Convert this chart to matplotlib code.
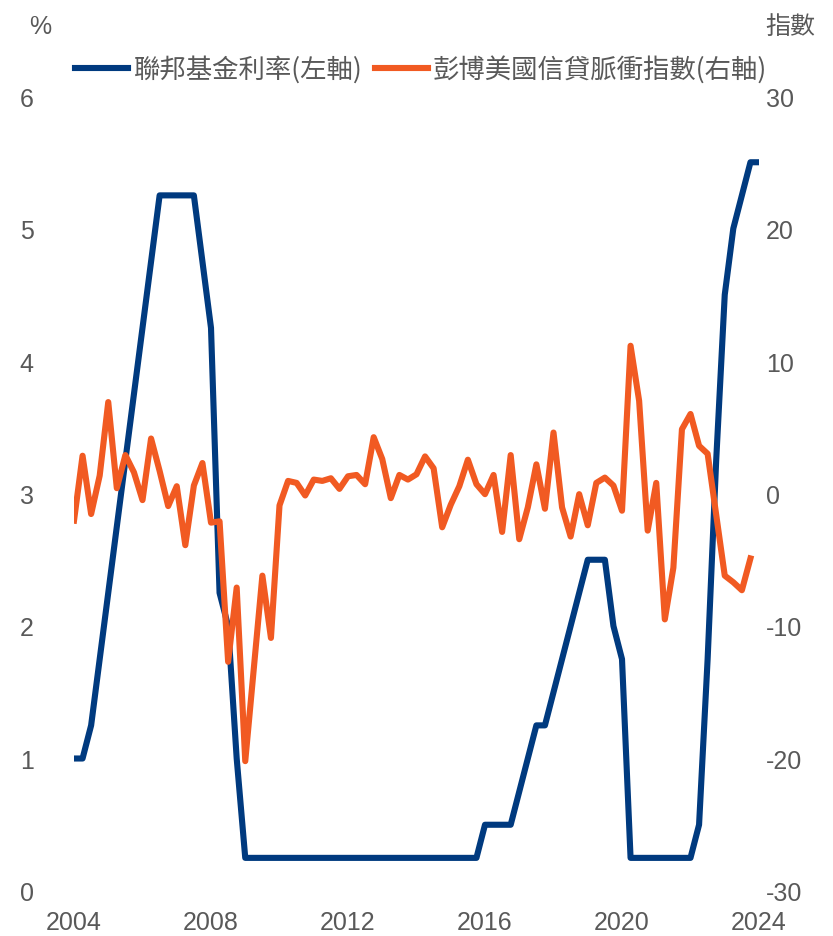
import matplotlib
matplotlib.use("Agg")
import matplotlib.pyplot as plt
import numpy as np

plt.rcParams['font.family'] = ['Liberation Sans', 'Noto Sans CJK TC', 'DejaVu Sans']
plt.rcParams['axes.unicode_minus'] = False

# Quarterly observations starting 2004Q1
start_year = 2004

fed_funds = [
    1.0, 1.0, 1.25, 1.75, 2.25, 2.75, 3.25, 3.75, 4.25, 4.75,
    5.25, 5.25, 5.25, 5.25, 5.25, 4.75, 4.25, 2.25, 2.0, 1.0,
    0.25, 0.25, 0.25, 0.25, 0.25, 0.25, 0.25, 0.25, 0.25, 0.25,
    0.25, 0.25, 0.25, 0.25, 0.25, 0.25, 0.25, 0.25, 0.25, 0.25,
    0.25, 0.25, 0.25, 0.25, 0.25, 0.25, 0.25, 0.25, 0.5, 0.5,
    0.5, 0.5, 0.75, 1.0, 1.25, 1.25, 1.5, 1.75, 2.0, 2.25,
    2.5, 2.5, 2.5, 2.0, 1.75, 0.25, 0.25, 0.25, 0.25, 0.25,
    0.25, 0.25, 0.25, 0.5, 1.75, 3.25, 4.5, 5.0, 5.25, 5.5,
    5.5,
]

credit_impulse = [
    -2.05, 2.85, -1.55, 1.35, 6.9, 0.4, 2.9, 1.6, -0.5, 4.15,
    1.7, -0.95, 0.55, -3.9, 0.6, 2.3, -2.2, -2.1, -12.7, -7.1,
    -20.2, -13.2, -6.2, -10.9, -0.9, 0.95, 0.8, -0.15, 1.05, 0.95,
    1.15, 0.35, 1.3, 1.4, 0.7, 4.25, 2.6, -0.35, 1.4, 1.05,
    1.45, 2.8, 1.9, -2.55, -0.85, 0.55, 2.55, 0.7, -0.05, 1.4,
    -2.9, 2.9, -3.45, -1.05, 2.2, -1.15, 4.6, -1.05, -3.25, -0.05,
    -2.4, 0.8, 1.2, 0.6, -1.3, 11.15, 7.0, -2.8, 0.8, -9.5,
    -5.6, 4.85, 6.0, 3.6, 3.0, -1.6, -6.2, -6.7, -7.3, -4.9,
]

year_ticks = [2004, 2008, 2012, 2016, 2020, 2024]
left_ticks = [0, 1, 2, 3, 4, 5, 6]
right_ticks = [-30, -20, -10, 0, 10, 20, 30]

label_fed = "聯邦基金利率(左軸)"
label_impulse = "彭博美國信貸脈衝指數(右軸)"

blue = "#003A7F"
orange = "#F15A22"
grey = "#595959"

t_fed = start_year + np.arange(len(fed_funds)) / 4
t_imp = start_year + np.arange(len(credit_impulse)) / 4

W, H = 833, 937
fig = plt.figure(figsize=(W / 100, H / 100), dpi=100)
ax = fig.add_axes([74 / W, (H - 892) / H, (759 - 74) / W, (892 - 97) / H])
ax2 = ax.twinx()

l1, = ax.plot(t_fed, fed_funds, color=blue, lw=4.4, solid_joinstyle='round')
l2, = ax2.plot(t_imp, credit_impulse, color=orange, lw=4.4, solid_joinstyle='round')

ax.set_xlim(2004, 2024)
ax.set_ylim(0, 6)
ax2.set_ylim(-30, 30)
ax.set_xticks(year_ticks)
ax.set_xticklabels([str(y) for y in year_ticks])
ax.set_yticks(left_ticks)
ax2.set_yticks(right_ticks)

for a in (ax, ax2):
    for s in a.spines.values():
        s.set_visible(False)
    a.tick_params(length=0, labelsize=18, colors=grey)
ax.tick_params(axis='x', pad=14)
ax.tick_params(axis='y', pad=29)
ax2.tick_params(axis='y', pad=5)

fig.text(40 / W, 1 - 27 / H, "%", ha='center', va='center', fontsize=18, color=grey)
fig.text(790 / W, 1 - 27 / H, "指數", ha='center', va='center', fontsize=18, color=grey,
         family=['Noto Sans CJK TC', 'DejaVu Sans'])

leg = fig.legend([l1, l2], [label_fed, label_impulse], loc='center',
                 bbox_to_anchor=(421 / W, 1 - 70 / H), ncol=2, frameon=False,
                 handlelength=2.0, handletextpad=0.2, columnspacing=0.5,
                 prop={'family': ['Noto Sans CJK TC', 'DejaVu Sans'], 'size': 19})
for txt in leg.get_texts():
    txt.set_color(grey)

fig.savefig("out.png", dpi=100)
